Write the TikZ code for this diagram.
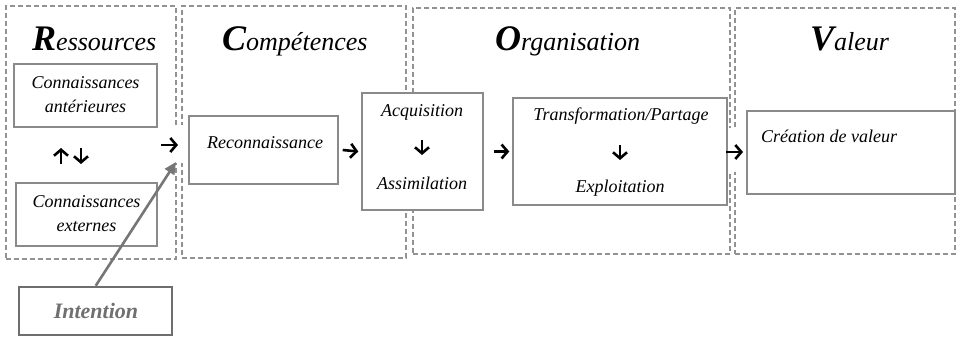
\documentclass[tikz,border=0pt]{standalone}
\usepackage{fontspec}
\setmainfont{Liberation Serif}
\usetikzlibrary{arrows.meta}
\definecolor{zonegray}{HTML}{929292}
\definecolor{boxgray}{HTML}{8A8A8A}
\definecolor{intgray}{HTML}{6E6E6E}
\definecolor{inttext}{HTML}{707070}
\definecolor{linkgray}{HTML}{767676}
\begin{document}
\begin{tikzpicture}[x=1pt,y=-1pt,
  zone/.style={draw=zonegray, dash pattern=on 5pt off 3pt, line width=1.4pt, inner sep=0pt},
  frame/.style={draw=boxgray, line width=1.4pt, fill=white, inner sep=0pt},
  cover/.style={fill=white, draw=none, inner sep=0pt},
  txt/.style={font=\fontsize{18}{24}\selectfont\itshape, align=center, inner sep=0pt},
  heading/.style={anchor=base west, inner sep=0pt},
  flow/.style={line width=2.6pt, -{Straight Barb[length=6pt,width=14pt]}},
  link/.style={draw=linkgray, line width=2.6pt, -{Triangle[length=12pt,width=11pt]}, shorten <=0.5pt}]
\useasboundingbox (0,0) rectangle (957,337);

% dashed zones
\node[zone, minimum width=170pt, minimum height=253pt] (res) at (91,132.5) {};
\node[zone, minimum width=224pt, minimum height=252pt] (comp) at (294,132) {};
\node[zone, minimum width=317pt, minimum height=246pt] (org) at (571.5,131) {};
\node[zone, minimum width=220pt, minimum height=246pt] (val) at (845,131) {};

% white patches behind the arrows crossing the zone borders
\node[cover, minimum width=28pt, minimum height=38pt] (gapA) at (172,144) {};
\node[cover, minimum width=16pt, minimum height=44pt] (gapB) at (737,150) {};

% headings
\newcommand{\headword}[2]{{\fontsize{36}{36}\selectfont\bfseries\itshape #1}{\fontsize{26}{26}\selectfont\itshape #2}}
\node[heading] (hres) at (32,51) {\headword{R}{essources}};
\node[heading] (hcomp) at (222,51) {\headword{C}{ompétences}};
\node[heading] (horg) at (495,51) {\headword{O}{rganisation}};
\node[heading] (hval) at (810,51) {\headword{V}{aleur}};

% boxes
\node[frame, minimum width=143pt, minimum height=63pt] (ant) at (85.5,95.5) {};
\node[frame, minimum width=141pt, minimum height=63pt] (ext) at (86.5,214.5) {};
\node[frame, minimum width=149pt, minimum height=68pt] (rec) at (263.5,150) {};
\node[frame, minimum width=121pt, minimum height=117pt] (acq) at (422.5,151.5) {};
\node[frame, minimum width=214pt, minimum height=107pt] (tra) at (620,151.5) {};
\node[frame, minimum width=208pt, minimum height=83pt] (cre) at (851,152.5) {};
\node[draw=intgray, line width=1.8pt, fill=white, inner sep=0pt,
      minimum width=153pt, minimum height=48pt] (int) at (95.5,311) {};

% box texts
\node[txt] (antT) at (85.5,95) {Connaissances\\antérieures};
\node[txt] (extT) at (86.5,214) {Connaissances\\externes};
\node[txt] (recT) at (265,143) {Reconnaissance};
\node[txt] (acqT) at (422,112) {Acquisition};
\node[txt] (assT) at (422,183) {Assimilation};
\node[txt] (traT) at (621,116) {Transformation/Partage};
\node[txt] (expT) at (620,188) {Exploitation};
\node[txt, anchor=west] (creT) at (761,136) {Création de valeur};
\node[font=\fontsize{22}{22}\selectfont\bfseries\itshape, text=inttext, inner sep=0pt] (intT) at (96,311) {Intention};

% small flow arrows
\coordinate (upS) at (61,164); \coordinate (upE) at (61,148);
\coordinate (dnS) at (81,148); \coordinate (dnE) at (81,164);
\draw[flow] (upS) -- (upE);
\draw[flow] (dnS) -- (dnE);
\coordinate (a1s) at (161,145); \coordinate (a1e) at (178,145);
\draw[flow] (a1s) -- (a1e);
\draw[flow] ([xshift=4pt]rec.east) -- ([xshift=-3pt]acq.west);
\draw[flow] ([xshift=10pt]acq.east) -- ([xshift=-3pt]tra.west);
\coordinate (a4s) at (726,152); \coordinate (a4e) at (743,152);
\draw[flow] (a4s) -- (a4e);
\coordinate (dAs) at (422,140); \coordinate (dAe) at (422,155);
\draw[flow] (dAs) -- (dAe);
\coordinate (dTs) at (620,145); \coordinate (dTe) at (620,160);
\draw[flow] (dTs) -- (dTe);

% intention link
\coordinate (tip) at (176,162);
\draw[link] (int.north) -- (tip);
\end{tikzpicture}
\end{document}
